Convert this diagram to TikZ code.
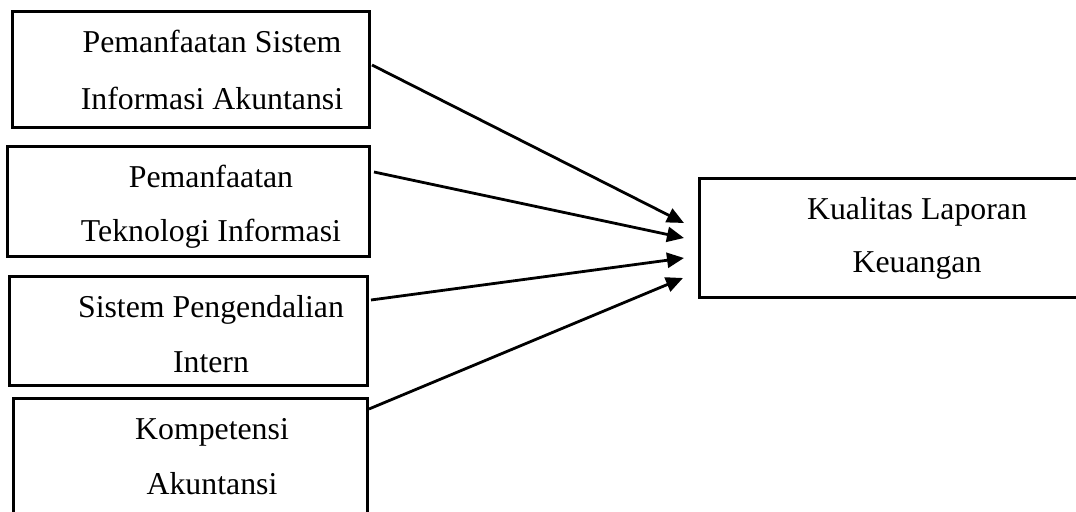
\documentclass[tikz,border=0pt]{standalone}
\usepackage{fontspec}
\setmainfont{Liberation Serif}
\usetikzlibrary{arrows.meta,fit}
\begin{document}
\begin{tikzpicture}[x=0.5pt,y=-0.5pt,
  box/.style={draw,line width=1.5pt,inner sep=0pt,rectangle},
  lbl/.style={anchor=base,inner sep=0pt,font=\fontsize{15.9}{19}\selectfont},
  arr/.style={line width=1.4pt,-{Triangle[length=8.5pt,width=7.5pt]}}]
\useasboundingbox (0,0) rectangle (1076,512);
\clip (0,0) rectangle (1076,512);
% boxes
\node[box,fit={(12,12)(369,128)}] (b1) {};
\node[box,fit={(7,147)(369,257)}] (b2) {};
\node[box,fit={(9,277)(367,386)}] (b3) {};
\node[box,fit={(13,399)(367,540)}] (b4) {};
\node[box,fit={(699,179)(1110,298)}] (k) {};
% texts
\node[lbl] (t1a) at (212,53) {Pemanfaatan Sistem};
\node[lbl] (t1b) at (212,110) {Informasi Akuntansi};
\node[lbl] (t2a) at (211,188) {Pemanfaatan};
\node[lbl] (t2b) at (211,242) {Teknologi Informasi};
\node[lbl] (t3a) at (211,318) {Sistem Pengendalian};
\node[lbl] (t3b) at (211,373) {Intern};
\node[lbl] (t4a) at (212,440) {Kompetensi};
\node[lbl] (t4b) at (212,495) {Akuntansi};
\node[lbl] (tka) at (917,220) {Kualitas Laporan};
\node[lbl] (tkb) at (917,273) {Keuangan};
% connector ends
\coordinate (s1) at (372,65);
\coordinate (s2) at (374,172);
\coordinate (s3) at (371,300);
\coordinate (s4) at (369,409);
\coordinate (e1) at (684,223);
\coordinate (e2) at (684,238);
\coordinate (e3) at (684,258);
\coordinate (e4) at (683,278);
\draw[arr] (s1) -- (e1);
\draw[arr] (s2) -- (e2);
\draw[arr] (s3) -- (e3);
\draw[arr] (s4) -- (e4);
\end{tikzpicture}
\end{document}
